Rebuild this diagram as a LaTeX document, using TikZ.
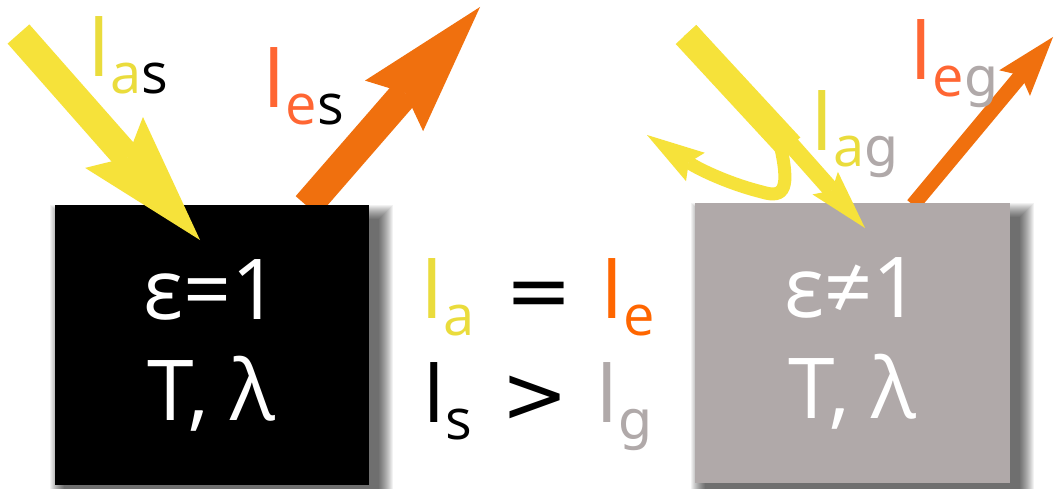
\documentclass[tikz,border=0pt]{standalone}
\usepackage{fontspec}
\setmainfont{Open Sans}
\newfontfamily\glyphfont{DejaVu Sans}
\usetikzlibrary{positioning, arrows.meta, calc, backgrounds}
\definecolor{SunYellow}{RGB}{246, 226, 58}
\definecolor{LabelYellow}{RGB}{234, 220, 60}
\definecolor{SunOrange}{RGB}{240, 112, 14}
\definecolor{EmitRed}{RGB}{255, 102, 51}
\definecolor{EmitOrange}{RGB}{255, 102, 0}
\definecolor{GreyBody}{RGB}{176, 169, 169}
\newcommand{\bigsz}{\fontsize{84}{101}\selectfont}
\newcommand{\subsz}{\fontsize{56}{60}\selectfont}
\newcommand{\opsz}{\glyphfont\fontsize{80}{90}\selectfont}
\newcommand{\gee}{{\glyphfont\fontsize{54}{60}\selectfont g}}
\newcommand{\flux}[2]{\textcolor{#1}{I}\raisebox{-17pt}{\subsz #2}}
\tikzset{
  body/.style={rectangle, inner sep=0pt, minimum width=314pt, minimum height=280pt,
    text=white, align=center, font=\bigsz},
  blackbody/.style={body, fill=black},
  greybody/.style={body, fill=GreyBody},
  lbl/.style={anchor=base west, inner sep=0pt, font=\bigsz},
  sym/.style={anchor=base, inner sep=0pt, font=\opsz},
  beam/.style={line width=29pt, SunYellow, -{Stealth[length=130pt, width=77pt, inset=20pt, line width=0pt]}},
  beamthin/.style={line width=17pt, SunYellow, -{Stealth[length=60pt, width=34pt, inset=10pt, line width=0pt]}},
  bounce/.style={line width=13pt, SunYellow, -{Stealth[length=58pt, width=34pt, inset=8pt, line width=0pt]}},
  glow/.style={line width=30pt, SunOrange, -{Stealth[length=131pt, width=77pt, inset=17pt, line width=0pt]}},
  glowthin/.style={line width=15pt, SunOrange, -{Stealth[length=60pt, width=40pt, inset=10pt, line width=0pt]}},
}
\begin{document}
\begin{tikzpicture}[x=1pt, y=-1pt]
  \useasboundingbox (0, 0) rectangle (1056, 489);
  \coordinate (inA) at (18.5, 34);
  \coordinate (hitA) at (200, 240);
  \coordinate (outA) at (307, 206);
  \coordinate (emitA) at (480, 7);
  \coordinate (inB) at (686, 34.5);
  \coordinate (inBb) at (690, 30.8);
  \coordinate (splitB) at (790, 147);
  \coordinate (bendB) at (780, 144);
  \coordinate (backB) at (647, 135);
  \coordinate (hitB) at (865, 228);
  \coordinate (outB) at (913, 205);
  \coordinate (emitB) at (1053, 37);

  \draw[glow] (outA) -- (emitA);
  \draw[glowthin] (outB) -- (emitB);

  \node[blackbody] (blackbox) at (211.5, 345) {ε=1\\T, λ};
  \node[greybody, minimum width=315pt] (greybox) at (852.5, 343) {ε≠1\\T, λ};

  \begin{scope}[on background layer]
    \fill[white] (0, 0) rectangle (1056, 489);
    \foreach \b in {blackbox, greybox}
      \foreach \k in {0,...,14}
        \fill[black, opacity=0.05] ($(\b.north west)+(10-\k, 14-\k)$) rectangle ($(\b.south east)+(10+\k, 10+\k)$);
  \end{scope}

  \draw[beam] (inA) -- (hitA);
  \draw[SunYellow, line width=28pt] (inB) -- (splitB);
  \draw[beamthin] (inBb) -- (hitB);
  \draw[bounce] (bendB) .. controls (790, 188) and (785, 199) .. (762, 192)
    .. controls (730, 184) and (700, 170) .. (backB);

  \node[lbl] (Ias) at (87, 77) {\flux{LabelYellow}{\textcolor{LabelYellow}{a}s}};
  \node[lbl] (Ies) at (262, 108) {\flux{EmitRed}{\textcolor{EmitRed}{e}s}};
  \node[lbl] (Iag) at (810, 150) {\flux{LabelYellow}{\textcolor{LabelYellow}{a}\textcolor{GreyBody}{\gee}}};
  \node[lbl] (Ieg) at (909, 80) {\flux{EmitRed}{\textcolor{EmitRed}{e}\textcolor{GreyBody}{\gee}}};

  \node[lbl] (Ia) at (420, 318) {\flux{LabelYellow}{\textcolor{LabelYellow}{a}}};
  \node[sym] (eq) at (539, 318) {=};
  \node[lbl] (Ie) at (600, 318) {\flux{EmitOrange}{\textcolor{EmitOrange}{e}}};
  \node[lbl] (Is) at (422, 422) {\flux{black}{s}};
  \node[sym] (gt) at (535, 422) {>};
  \node[lbl] (Ig) at (595, 422) {\flux{GreyBody}{\textcolor{GreyBody}{\gee}}};
\end{tikzpicture}
\end{document}
